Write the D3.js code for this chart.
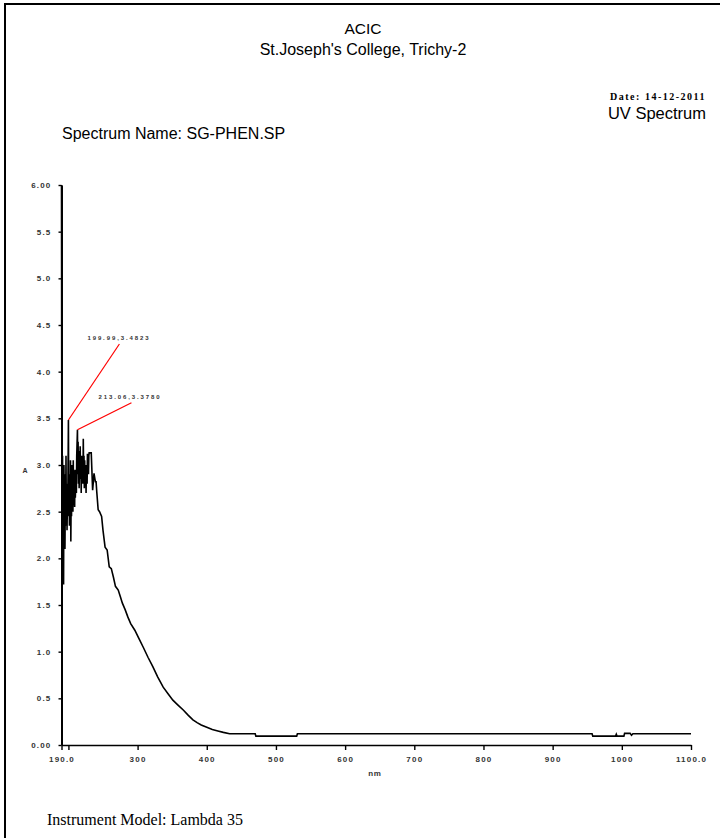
<!DOCTYPE html>
<html>
<head>
<meta charset="utf-8">
<script src="https://cdn.jsdelivr.net/npm/d3@7"></script>
<style>
    body { margin: 0; background: #fff; }
</style>
</head>
<body>
<div id="chart"></div>
<script>
// Spectrum data (wavelength in nm, absorbance in A)
const wavelength = [
    190, 190.5, 191, 191.5, 192, 192.5, 193, 193.5, 194, 194.5, 195, 195.5, 196, 196.5, 197, 197.5,
    198, 198.5, 199, 199.99, 200.5, 201, 201.5, 202, 202.5, 203, 203.5, 204, 204.5, 205, 205.5,
    206, 206.5, 207, 207.5, 208, 209, 209.5, 210, 211, 211.5, 212, 213.06, 213.5, 214, 214.5,
    215, 215.5, 216, 216.5, 217, 217.5, 218, 218.5, 219, 219.5, 220, 221, 221.5, 222, 222.5,
    223, 223.5, 224, 225, 225.5, 226, 227, 227.5, 228, 229, 229.5, 230, 231, 233, 235, 237,
    239, 240, 241, 243, 245, 248, 250, 253, 256, 259, 262, 265, 268, 272, 275, 278, 282, 286,
    290, 296, 302, 308, 315, 322, 329, 337, 344, 351, 358, 366, 373, 380, 386, 392, 400, 408,
    416, 424, 433, 470, 471, 530, 531, 957, 958, 991, 992, 993, 1003, 1004, 1012, 1014, 1016, 1100
];
const absorbance = [
    6.0, 2.9, 1.9, 3.1, 2.0, 2.8, 1.72, 3.0, 2.3, 2.9, 2.1, 2.7, 2.35, 3.1, 2.4, 2.8,
    2.3, 2.6, 2.45, 3.4823, 2.5, 2.75, 2.35, 2.9, 2.4, 3.05, 2.18, 2.7, 2.45, 3.0, 2.55,
    2.8, 2.5, 3.05, 2.6, 2.8, 2.55, 2.95, 2.65, 2.9, 2.7, 3.1, 3.378, 2.9, 3.25, 2.8,
    3.15, 2.75, 3.0, 2.85, 3.2, 2.9, 3.05, 2.7, 3.1, 2.85, 3.0, 2.8, 3.28, 2.9, 3.1,
    2.75, 3.05, 2.85, 3.0, 2.7, 2.95, 2.8, 3.12, 3.1, 2.9, 3.1, 3.13, 3.13, 3.13, 2.73, 2.91,
    2.82, 2.82, 2.71, 2.52, 2.5, 2.45, 2.3, 2.12, 2.09, 1.91, 1.89, 1.8, 1.7, 1.66, 1.59, 1.52, 1.45, 1.37,
    1.3, 1.23, 1.14, 1.05, 0.94, 0.84, 0.73, 0.62, 0.55, 0.48, 0.43, 0.375, 0.32, 0.27, 0.24, 0.215, 0.19, 0.165,
    0.15, 0.135, 0.12, 0.12, 0.095, 0.095, 0.12, 0.12, 0.095, 0.095, 0.115, 0.095, 0.095, 0.125, 0.125, 0.105, 0.12, 0.12
];

// Picked peaks shown with red leader lines
const peakNm = [199.99, 213.06];
const peakAbs = [3.4823, 3.3780];

// Axis ticks
const xTickValues = [190, 200, 300, 400, 500, 600, 700, 800, 900, 1000, 1100];
const yTickValues = [0, 0.5, 1.0, 1.5, 2.0, 2.5, 3.0, 3.5, 4.0, 4.5, 5.0, 5.5, 6.0];

const createSpectrum = () => {
    const W = 720, H = 838;
    const plot = { left: 61.5, right: 691, top: 185, bottom: 745 };

    const svg = d3.select("#chart")
        .append("svg")
        .attr("width", W)
        .attr("height", H)
        .style("display", "block");

    svg.append("rect").attr("width", W).attr("height", H).attr("fill", "#fff");

    // Page frame (top and left edges only)
    svg.append("path")
        .attr("d", `M5,${H} L5,4 L${W},4`)
        .attr("fill", "none")
        .attr("stroke", "#000")
        .attr("stroke-width", 2);

    // Header texts
    const sans = "'Liberation Sans', Arial, sans-serif";
    const serif = "'Liberation Serif', 'Times New Roman', serif";

    svg.append("text").attr("x", 363).attr("y", 34)
        .attr("text-anchor", "middle").style("font-family", sans).style("font-size", "15.5px")
        .text("ACIC");
    svg.append("text").attr("x", 363).attr("y", 55)
        .attr("text-anchor", "middle").style("font-family", sans).style("font-size", "16px")
        .text("St.Joseph's College, Trichy-2");
    svg.append("text").attr("x", 706).attr("y", 100)
        .attr("text-anchor", "end").style("font-family", serif).style("font-size", "10px")
        .style("font-weight", "bold").style("letter-spacing", "1.5px")
        .text("Date: 14-12-2011");
    svg.append("text").attr("x", 706).attr("y", 119)
        .attr("text-anchor", "end").style("font-family", sans).style("font-size", "16.5px")
        .text("UV Spectrum");
    svg.append("text").attr("x", 62).attr("y", 139)
        .style("font-family", sans).style("font-size", "16px")
        .text("Spectrum Name:  SG-PHEN.SP");
    svg.append("text").attr("x", 47).attr("y", 825)
        .style("font-family", serif).style("font-size", "16px")
        .text("Instrument Model: Lambda 35");

    // Scales
    const x = d3.scaleLinear().domain([190, 1100]).range([plot.left, plot.right]);
    const y = d3.scaleLinear().domain([0, 6]).range([plot.bottom, plot.top]);

    const tickFont = g => g.selectAll("text")
        .style("font-family", sans)
        .style("font-size", "8px")
        .style("font-weight", "bold")
        .style("letter-spacing", "1.2px")
        .attr("fill", "#333");

    // x-axis
    svg.append("g")
        .attr("transform", `translate(0,${plot.bottom})`)
        .call(d3.axisBottom(x)
            .tickValues(xTickValues)
            .tickSize(5)
            .tickPadding(6)
            .tickSizeOuter(0)
            .tickFormat(d => d === 190 ? "190.0" : d === 1100 ? "1100.0" : d === 200 ? "" : d))
        .call(g => g.select(".domain").attr("stroke-width", 1.6))
        .call(g => g.selectAll("line").attr("stroke-width", 1.4))
        .call(tickFont);

    // y-axis
    svg.append("g")
        .attr("transform", `translate(${plot.left},0)`)
        .call(d3.axisLeft(y)
            .tickValues(yTickValues)
            .tickSize(3)
            .tickPadding(7)
            .tickSizeOuter(0)
            .tickFormat(d => d === 0 ? "0.00" : d === 6 ? "6.00" : d3.format(".1f")(d)))
        .call(g => g.select(".domain").attr("stroke-width", 2))
        .call(g => g.selectAll("line").attr("stroke-width", 1.4))
        .call(tickFont);

    // Axis titles
    svg.append("text").attr("x", 25).attr("y", 473)
        .attr("text-anchor", "middle").style("font-family", sans).style("font-size", "7px")
        .style("font-weight", "bold").attr("fill", "#333").text("A");
    svg.append("text").attr("x", 375).attr("y", 776)
        .attr("text-anchor", "middle").style("font-family", sans).style("font-size", "8px")
        .style("font-weight", "bold").style("letter-spacing", "0.8px").attr("fill", "#333").text("nm");

    // Spectrum line
    const points = wavelength.map((w, i) => [w, absorbance[i]]);
    const line = d3.line()
        .x(d => x(d[0]))
        .y(d => y(d[1]));

    svg.append("path")
        .datum(points)
        .attr("d", line)
        .attr("fill", "none")
        .attr("stroke", "#000")
        .attr("stroke-width", 1.6)
        .attr("stroke-linejoin", "miter");

    // Peak leader lines and labels (offsets are layout only)
    const leaderOffset = [[51, -76], [54, -27]];
    const labelOffset = [[19, -80], [21, -31]];

    peakNm.forEach((nm, i) => {
        const px = x(nm), py = y(peakAbs[i]);
        svg.append("line")
            .attr("x1", px).attr("y1", py)
            .attr("x2", px + leaderOffset[i][0]).attr("y2", py + leaderOffset[i][1])
            .attr("stroke", "#ff0000")
            .attr("stroke-width", 1.2);
        svg.append("text")
            .attr("x", px + labelOffset[i][0])
            .attr("y", py + labelOffset[i][1])
            .style("font-family", sans)
            .style("font-size", "6px")
            .style("font-weight", "bold")
            .style("letter-spacing", "1.9px")
            .attr("fill", "#333")
            .text(`${nm.toFixed(2)},${peakAbs[i].toFixed(4)}`);
    });
};

createSpectrum();
</script>
</body>
</html>
